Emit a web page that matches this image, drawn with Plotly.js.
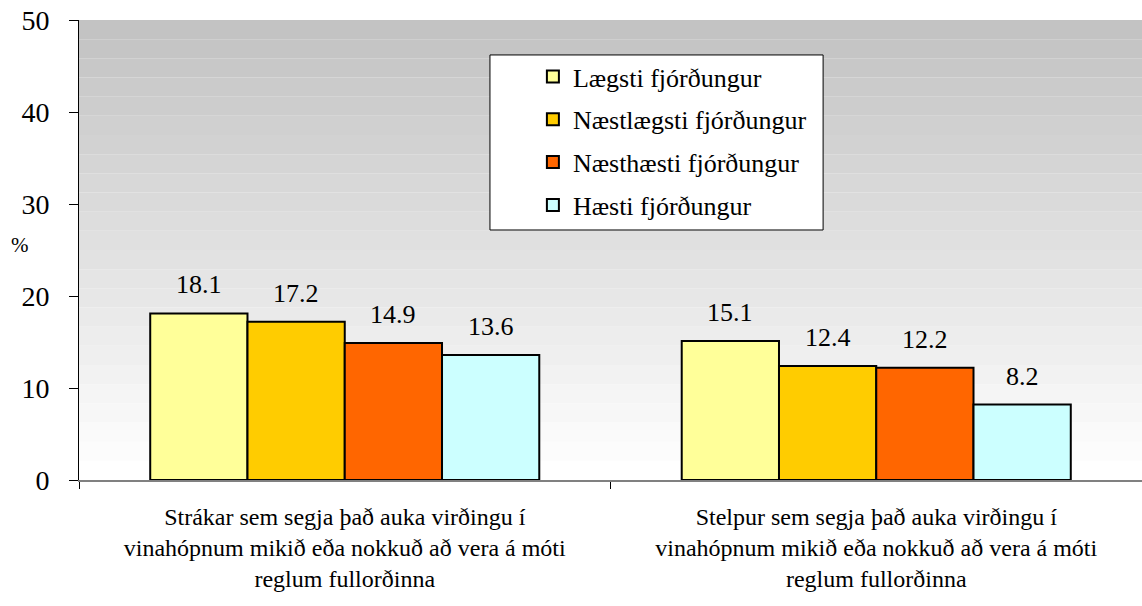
<!DOCTYPE html>
<html><head><meta charset="utf-8">
<script src="https://cdn.plot.ly/plotly-3.0.1.min.js"></script>
</head><body style="margin:0;background:#fff">
<div id="chart" style="width:1142px;height:606px"></div>
<script>
const categories = [
  "Strákar sem segja það auka virðingu í<br>vinahópnum mikið eða nokkuð að vera á móti<br>reglum fullorðinna",
  "Stelpur sem segja það auka virðingu í<br>vinahópnum mikið eða nokkuð að vera á móti<br>reglum fullorðinna"
];
const seriesNames = ["Lægsti fjórðungur", "Næstlægsti fjórðungur", "Næsthæsti fjórðungur", "Hæsti fjórðungur"];
const lowest = [18.1, 15.1];
const secondLowest = [17.2, 12.4];
const secondHighest = [14.9, 12.2];
const highest = [13.6, 8.2];
const colors = ["#FFFF99", "#FFCC00", "#FF6600", "#CCFFFF"];

const values = [lowest, secondLowest, secondHighest, highest];
const SERIF = "Liberation Serif";
const W = 1142, H = 606, ML = 79, MR = 0, MT = 20, MB = 126;
const BARGAP = 0.268;
const barPx = (W - ML - MR) / categories.length * (1 - BARGAP) / values.length;

const traces = values.map((v, i) => ({
  type: "bar",
  name: seriesNames[i],
  legendgroup: "g" + i,
  x: categories,
  y: v,
  marker: {color: colors[i], line: {color: "#000", width: 2}},
  hoverinfo: "none"
}));

const annotations = [];
values.forEach((v, i) => v.forEach((val, j) => {
  annotations.push({x: categories[j], y: val, xref: "x", yref: "y", text: val.toFixed(1),
    showarrow: false, xanchor: "center", yanchor: "bottom", yshift: 12,
    xshift: (i - (values.length - 1) / 2) * barPx,
    font: {family: SERIF, size: 26, color: "#000"}});
}));
annotations.push({text: "%", xref: "paper", yref: "paper", x: -0.0555, y: 0.511, showarrow: false,
  xanchor: "center", yanchor: "middle", font: {family: SERIF, size: 21, color: "#000"}});

// stepped gray background gradient
const shapes = [];
const bands = 24;
for (let k = 0; k < bands; k++) {
  const t = k / bands;
  const g = Math.round(192 + (255 - 192) * (1 - t));
  shapes.push({type: "rect", xref: "paper", yref: "paper", x0: 0, x1: 1,
    y0: k / bands, y1: (k + 1) / bands, fillcolor: `rgb(${g},${g},${g})`,
    line: {width: 0}, layer: "below"});
}
// legend frame
shapes.push({type: "rect", xref: "paper", yref: "paper", x0: 0.3866, x1: 0.700, y0: 0.5435, y1: 0.924,
  fillcolor: "#fff", line: {color: "#000", width: 1}, layer: "below"});

const layout = {
  width: W, height: H,
  margin: {l: ML, r: MR, t: MT, b: MB},
  paper_bgcolor: "#fff", plot_bgcolor: "rgba(0,0,0,0)",
  font: {family: SERIF, color: "#000"},
  barmode: "group", bargap: BARGAP, bargroupgap: 0,
  showlegend: true,
  legend: {x: 0.427, y: 0.928, xanchor: "left", yanchor: "top",
    bgcolor: "rgba(0,0,0,0)", borderwidth: 0,
    font: {family: SERIF, size: 26, color: "#000"},
    traceorder: "grouped", tracegroupgap: 6, itemwidth: 30},
  xaxis: {showline: true, linecolor: "#808080", linewidth: 2,
    ticks: "outside", tickson: "boundaries", ticklen: 7, tickcolor: "#000",
    ticklabelstandoff: 14,
    tickfont: {family: SERIF, size: 24, color: "#000"}, showgrid: false},
  yaxis: {range: [0, 50], dtick: 10, showline: true, linecolor: "#000", linewidth: 1,
    ticks: "outside", ticklen: 9, tickcolor: "#000", showgrid: false, zeroline: false,
    ticklabelstandoff: 14,
    tickfont: {family: SERIF, size: 28, color: "#000"}},
  shapes: shapes,
  annotations: annotations
};
const forceSerif = () => {
  document.querySelectorAll("#chart text").forEach(t => {
    t.style.setProperty("font-family", "'Liberation Serif', 'Times New Roman', serif", "important");
  });
};
Plotly.newPlot("chart", traces, layout, {displayModeBar: false}).then(() => {
  forceSerif();
  document.getElementById("chart").on("plotly_afterplot", forceSerif);
});
</script>
</body></html>
